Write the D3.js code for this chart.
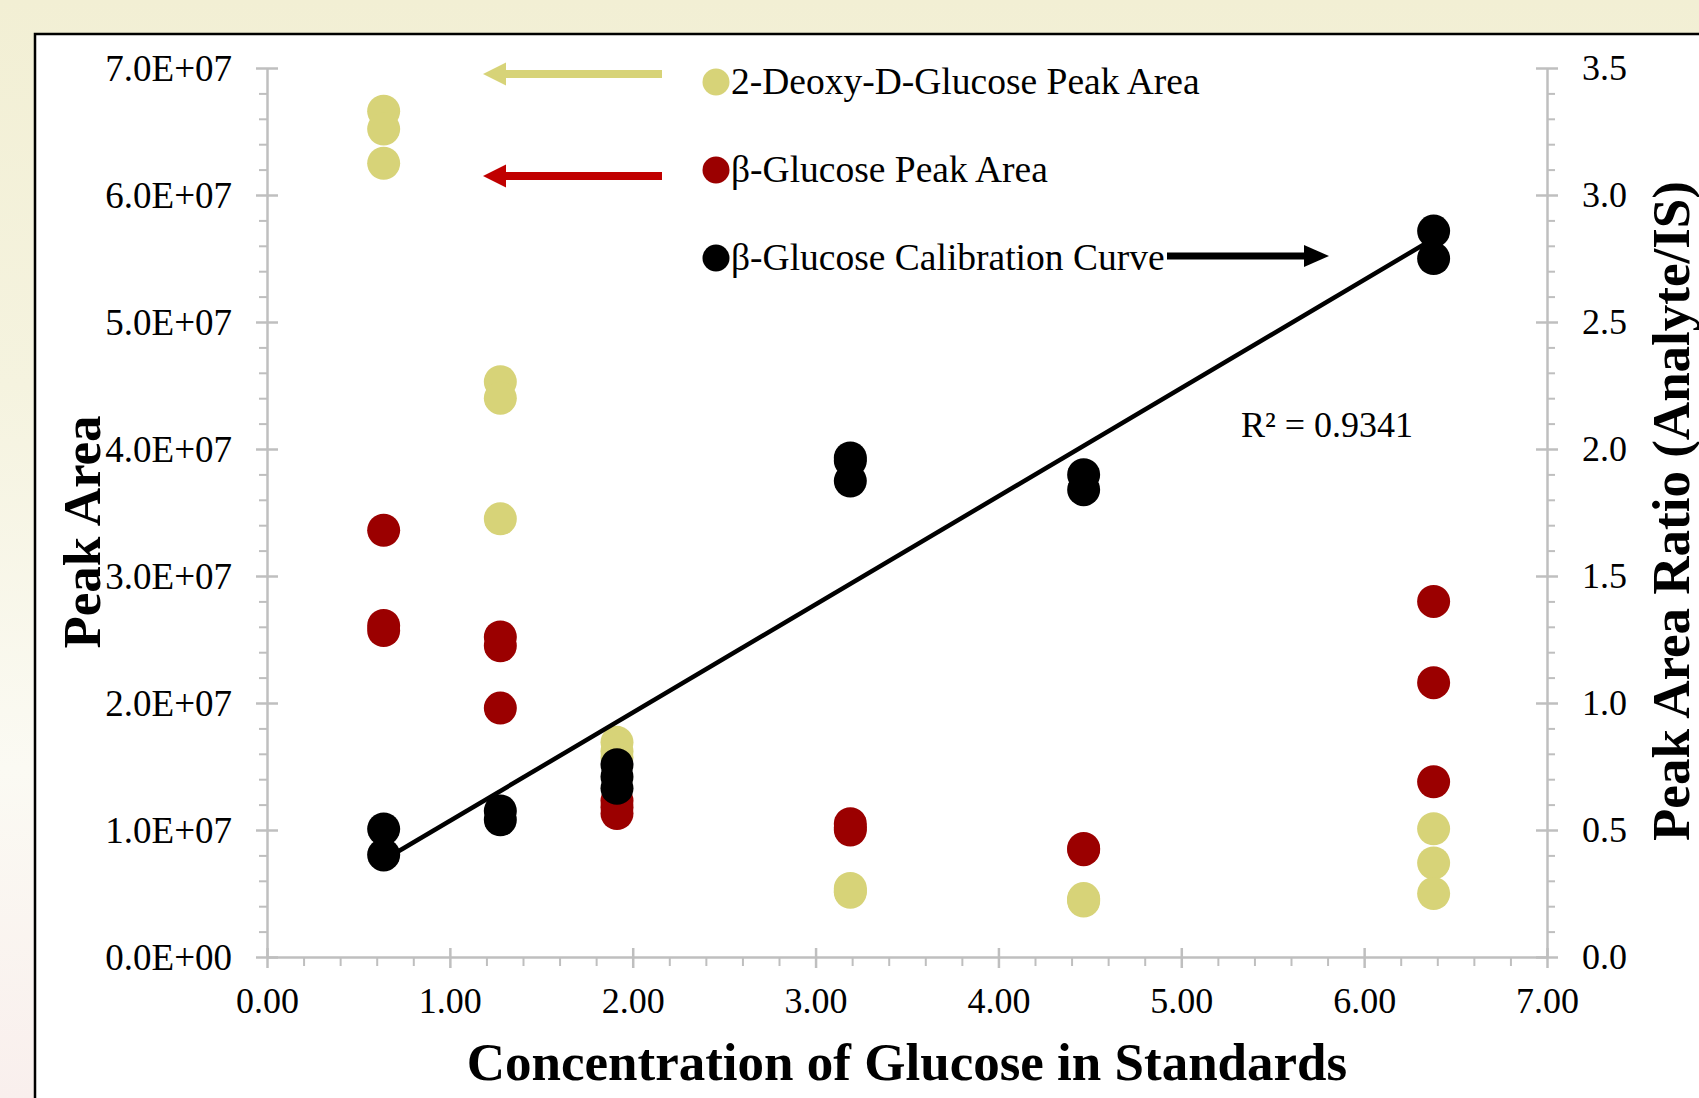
<!DOCTYPE html>
<html>
<head>
<meta charset="utf-8">
<script src="https://cdn.jsdelivr.net/npm/d3@7"></script>
<style>
  html, body { margin: 0; padding: 0; overflow: hidden; background: #f2efd5; }
  svg { display: block; }
</style>
</head>
<body>
<script>
// Glucose standards (concentration levels, replicate measurements per level)
const concentrations = [0.638, 1.276, 1.914, 3.19, 4.466, 6.38];

// 2-Deoxy-D-glucose (internal standard) peak areas, left axis
const deoxyGlucoseArea = [
  [6.66e7, 6.52e7, 6.25e7],
  [4.53e7, 4.40e7, 3.45e7],
  [1.69e7, 1.62e7, 1.57e7],
  [0.54e7, 0.52e7, 0.51e7],
  [0.46e7, 0.45e7, 0.44e7],
  [1.01e7, 0.74e7, 0.50e7]
];

// beta-glucose peak areas, left axis
const glucoseArea = [
  [3.36e7, 2.61e7, 2.57e7],
  [2.52e7, 2.45e7, 1.96e7],
  [1.23e7, 1.18e7, 1.13e7],
  [1.05e7, 1.02e7, 1.00e7],
  [0.855e7, 0.845e7],
  [2.80e7, 2.16e7, 1.38e7]
];

// beta-glucose / internal standard peak area ratio, right axis
const calibrationRatio = [
  [0.504, 0.402],
  [0.575, 0.540],
  [0.757, 0.710, 0.664],
  [1.965, 1.954, 1.874],
  [1.899, 1.840],
  [2.858, 2.750]
];

// Linear calibration fit
const fitSlope = 0.426;
const fitIntercept = 0.110;
const fitR2 = "0.9341";

const seriesNames = ["2-Deoxy-D-Glucose Peak Area", "β-Glucose Peak Area", "β-Glucose Calibration Curve"];

const xTicks = [0, 1, 2, 3, 4, 5, 6, 7];
const leftTicks = [0, 1e7, 2e7, 3e7, 4e7, 5e7, 6e7, 7e7];
const rightTicks = [0, 0.5, 1.0, 1.5, 2.0, 2.5, 3.0, 3.5];

const xTitle = "Concentration of Glucose in Standards";
const leftTitle = "Peak Area";
const rightTitle = "Peak Area Ratio (Analyte/IS)";

// ---- styling ----
const COLORS = { deoxy: "#d7d378", glucose: "#9b0000", ratio: "#000000", redArrow: "#c00000", axis: "#bfbfbf" };
const FONT = "'Liberation Serif', 'Times New Roman', serif";

const W = 1699, H = 1098;
const plot = { left: 267, right: 1547, top: 68, bottom: 957 };

const svg = d3.select("body").append("svg").attr("width", W).attr("height", H);

// page background with soft gradient
const defs = svg.append("defs");
const grad = defs.append("linearGradient").attr("id", "bg").attr("x1", 0).attr("y1", 0).attr("x2", 0).attr("y2", 1);
grad.append("stop").attr("offset", "0%").attr("stop-color", "#f2efd4");
grad.append("stop").attr("offset", "35%").attr("stop-color", "#f5f3df");
grad.append("stop").attr("offset", "70%").attr("stop-color", "#fbfaf3");
grad.append("stop").attr("offset", "100%").attr("stop-color", "#f9efed");
svg.append("rect").attr("width", W).attr("height", H).attr("fill", "url(#bg)");

// chart frame
svg.append("rect")
  .attr("x", 35).attr("y", 34).attr("width", W).attr("height", H)
  .attr("fill", "#ffffff").attr("stroke", "#000").attr("stroke-width", 2.5);

// ---- scales ----
const x = d3.scaleLinear().domain([0, 7]).range([plot.left, plot.right]);
const yL = d3.scaleLinear().domain([0, 7e7]).range([plot.bottom, plot.top]);
const yR = d3.scaleLinear().domain([0, 3.5]).range([plot.bottom, plot.top]);

function sciFormat(v) {
  if (v === 0) return "0.0E+00";
  const e = Math.floor(Math.log10(Math.abs(v)));
  const m = v / Math.pow(10, e);
  return m.toFixed(1) + "E+" + String(e).padStart(2, "0");
}

function minorsBetween(majors, steps) {
  const out = [];
  for (let i = 0; i < majors.length - 1; i++) {
    const a = majors[i], b = majors[i + 1];
    for (let k = 1; k < steps; k++) out.push(a + (b - a) * k / steps);
  }
  return out;
}

function styleAxis(g, size) {
  g.select(".domain").attr("stroke", COLORS.axis).attr("stroke-width", 2.5);
  g.selectAll(".tick line").attr("stroke", COLORS.axis).attr("stroke-width", 2.5);
  g.selectAll("text").attr("font-family", FONT).attr("font-size", size).attr("fill", "#000");
}

// left axis
const gL = svg.append("g").attr("transform", `translate(${plot.left},0)`)
  .call(d3.axisLeft(yL).tickValues(minorsBetween(leftTicks, 5)).tickSize(8).tickSizeOuter(0).tickFormat(""));
gL.select(".domain").remove();
gL.selectAll(".tick line").attr("stroke", COLORS.axis).attr("stroke-width", 2);
const gL2 = svg.append("g").attr("transform", `translate(${plot.left},0)`)
  .call(d3.axisLeft(yL).tickValues(leftTicks).tickSize(11).tickSizeOuter(0).tickPadding(24).tickFormat(sciFormat));
styleAxis(gL2, 37);
gL2.selectAll(".tick line").attr("x1", 11);
gL2.selectAll("text").attr("dy", "0.33em");

// right axis
const gR = svg.append("g").attr("transform", `translate(${plot.right},0)`)
  .call(d3.axisRight(yR).tickValues(minorsBetween(rightTicks, 5)).tickSize(8).tickSizeOuter(0).tickFormat(""));
gR.select(".domain").remove();
gR.selectAll(".tick line").attr("stroke", COLORS.axis).attr("stroke-width", 2);
const gR2 = svg.append("g").attr("transform", `translate(${plot.right},0)`)
  .call(d3.axisRight(yR).tickValues(rightTicks).tickSize(11).tickSizeOuter(0).tickPadding(24).tickFormat(d3.format(".1f")));
styleAxis(gR2, 36);
gR2.selectAll(".tick line").attr("x1", -11);
gR2.selectAll("text").attr("dy", "0.33em");

// bottom axis
const gB = svg.append("g").attr("transform", `translate(0,${plot.bottom})`)
  .call(d3.axisBottom(x).tickValues(minorsBetween(xTicks, 5)).tickSize(9).tickSizeOuter(0).tickFormat(""));
gB.select(".domain").remove();
gB.selectAll(".tick line").attr("stroke", COLORS.axis).attr("stroke-width", 2);
const gB2 = svg.append("g").attr("transform", `translate(0,${plot.bottom})`)
  .call(d3.axisBottom(x).tickValues(xTicks).tickSize(11).tickSizeOuter(0).tickFormat(d3.format(".2f")));
styleAxis(gB2, 36);
gB2.selectAll(".tick line").attr("y1", -9);
gB2.selectAll("text").attr("y", 56).attr("dy", 0);

// ---- points ----
function flatten(values) {
  const pts = [];
  values.forEach((reps, i) => reps.forEach(v => pts.push({ c: concentrations[i], v })));
  return pts;
}
const R = 16.5;

svg.append("g").selectAll("circle").data(flatten(deoxyGlucoseArea)).join("circle")
  .attr("cx", d => x(d.c)).attr("cy", d => yL(d.v)).attr("r", R).attr("fill", COLORS.deoxy);
svg.append("g").selectAll("circle").data(flatten(glucoseArea)).join("circle")
  .attr("cx", d => x(d.c)).attr("cy", d => yL(d.v)).attr("r", R).attr("fill", COLORS.glucose);
svg.append("g").selectAll("circle").data(flatten(calibrationRatio)).join("circle")
  .attr("cx", d => x(d.c)).attr("cy", d => yR(d.v)).attr("r", R).attr("fill", COLORS.ratio);

// calibration trendline
const fitX = d3.extent(concentrations);
svg.append("path")
  .datum(fitX.map(c => ({ c, v: fitSlope * c + fitIntercept })))
  .attr("d", d3.line().x(d => x(d.c)).y(d => yR(d.v)))
  .attr("fill", "none").attr("stroke", "#000").attr("stroke-width", 4.5);

svg.append("text")
  .attr("x", 1241).attr("y", 437)
  .attr("font-family", FONT).attr("font-size", 36)
  .text("R² = " + fitR2);

// ---- legend with pointer arrows ----
const legendColors = [COLORS.deoxy, COLORS.glucose, COLORS.ratio];
const legendY = [82, 170, 258];
const leg = svg.append("g");
seriesNames.forEach((name, i) => {
  leg.append("circle").attr("cx", 716).attr("cy", legendY[i]).attr("r", 13.5).attr("fill", legendColors[i]);
  leg.append("text")
    .attr("x", 731).attr("y", legendY[i]).attr("dy", "0.33em")
    .attr("font-family", FONT).attr("font-size", 37.5)
    .text(name);
});

function arrow(x0, x1, y, color, width, headLen, headHalf) {
  const dir = Math.sign(x1 - x0);
  const g = svg.append("g");
  g.append("line").attr("x1", x0).attr("x2", x1 - dir * headLen).attr("y1", y).attr("y2", y)
    .attr("stroke", color).attr("stroke-width", width);
  g.append("path")
    .attr("d", `M${x1},${y} L${x1 - dir * headLen},${y - headHalf} L${x1 - dir * headLen},${y + headHalf} Z`)
    .attr("fill", color);
}
arrow(662, 483, 74, COLORS.deoxy, 8, 23, 11.5);
arrow(662, 483, 176, COLORS.redArrow, 8, 23, 11.5);
arrow(1167, 1329, 256, "#000", 7, 25, 11);

// ---- axis titles ----
svg.append("text")
  .attr("x", (plot.left + plot.right) / 2).attr("y", 1080)
  .attr("text-anchor", "middle")
  .attr("font-family", FONT).attr("font-weight", "bold").attr("font-size", 53)
  .text(xTitle);

svg.append("text")
  .attr("transform", "translate(81,532) rotate(-90)")
  .attr("text-anchor", "middle").attr("dy", "0.35em")
  .attr("font-family", FONT).attr("font-weight", "bold").attr("font-size", 53)
  .text(leftTitle);

svg.append("text")
  .attr("transform", "translate(1670,511) rotate(-90)")
  .attr("text-anchor", "middle").attr("dy", "0.35em")
  .attr("font-family", FONT).attr("font-weight", "bold").attr("font-size", 53)
  .text(rightTitle);
</script>
</body>
</html>
